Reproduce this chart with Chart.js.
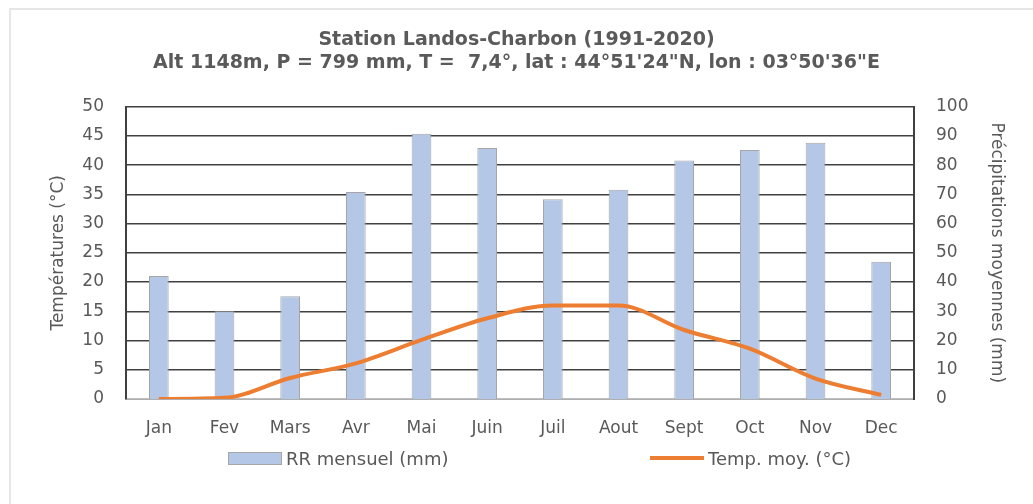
<!DOCTYPE html>
<html>
<head>
<meta charset="utf-8">
<script src="https://cdn.jsdelivr.net/npm/chart.js@4.4.0/dist/chart.umd.min.js"></script>
<style>
  html, body { margin: 0; padding: 0; background: #fff; overflow: hidden; }
  #wrap { position: relative; width: 1033px; height: 504px; overflow: hidden; }
  #frame { position: absolute; left: 9px; top: 8px; width: 1100px; height: 600px; border-left: 2px solid #e6e6e6; border-top: 2px solid #e6e6e6; }
  #myChart { position: absolute; left: 0; top: 0; }
  #legend { position: absolute; top: 446px; left: 0; width: 1033px; height: 24px; font-family: "DejaVu Sans", sans-serif; font-size: 18px; color: #595959; }
  .item { position: absolute; top: 0; display: flex; align-items: center; height: 24px; }
  .swatch { display: inline-block; margin-right: 4px; }
</style>
</head>
<body>
<div id="wrap">
  <div id="frame"></div>
  <canvas id="myChart" width="1033" height="504"></canvas>
  <div id="legend"></div>
</div>
<script>
var months = ['Jan', 'Fev', 'Mars', 'Avr', 'Mai', 'Juin', 'Juil', 'Aout', 'Sept', 'Oct', 'Nov', 'Dec'];
var rainMm = [42.1, 30.0, 35.1, 70.8, 90.7, 85.8, 68.3, 71.6, 81.6, 85.2, 87.6, 46.9];
var tempC = [0.0, 0.2, 3.6, 6.1, 10.1, 13.8, 16.0, 16.0, 11.8, 8.6, 3.5, 0.7];
var titleLines = ['Station Landos-Charbon (1991-2020)', 'Alt 1148m, P = 799 mm, T =  7,4°, lat : 44°51\'24"N, lon : 03°50\'36"E'];
var rainLabel = 'RR mensuel (mm)';
var tempLabel = 'Temp. moy. (°C)';

var fontFam = '"DejaVu Sans", sans-serif';
var tickColor = '#595959';

const ctx = document.getElementById('myChart').getContext('2d');
const myChart = new Chart(ctx, {
    type: 'bar',
    data: {
        labels: months,
        datasets: [{
            type: 'line',
            label: tempLabel,
            data: tempC,
            yAxisID: 'yT',
            borderColor: '#ed7d31',
            backgroundColor: '#ed7d31',
            borderWidth: 4,
            pointRadius: 0,
            cubicInterpolationMode: 'monotone',
            order: 0
        }, {
            type: 'bar',
            label: rainLabel,
            data: rainMm,
            yAxisID: 'yP',
            backgroundColor: '#b4c7e7',
            borderColor: '#a6a6a6',
            borderWidth: 1,
            barPercentage: 0.6,
            categoryPercentage: 0.5,
            order: 1
        }]
    },
    options: {
        responsive: false,
        animation: false,
        layout: { padding: { left: 0, right: 0, top: 0, bottom: 58 } },
        plugins: {
            legend: { display: false },
            tooltip: { enabled: false },
            title: {
                display: true,
                text: titleLines,
                color: '#5a5a5a',
                font: { family: fontFam, size: 19, weight: 'bold', lineHeight: 1.2 },
                padding: { top: 29, bottom: 32 }
            }
        },
        scales: {
            x: {
                grid: { display: false, drawTicks: false },
                border: { display: true, color: '#bfbfbf', width: 1.5 },
                ticks: { color: tickColor, font: { family: fontFam, size: 17 }, padding: 19, maxRotation: 0 },
                afterFit: function (scale) { scale.height = 47; }
            },
            yT: {
                position: 'left',
                min: 0,
                max: 50,
                ticks: { stepSize: 5, color: tickColor, font: { family: fontFam, size: 17 }, padding: 22 },
                grid: { color: '#404040', lineWidth: 1.5, drawTicks: false },
                border: { display: true, color: '#404040', width: 2 },
                title: { display: true, text: 'Températures (°C)', color: tickColor, font: { family: fontFam, size: 17 }, padding: { top: 48, bottom: 0 } },
                afterFit: function (scale) { scale.width = 126; }
            },
            yP: {
                position: 'right',
                min: 0,
                max: 100,
                ticks: { stepSize: 10, color: tickColor, font: { family: fontFam, size: 17 }, padding: 22 },
                grid: { display: false, drawTicks: false },
                border: { display: true, color: '#404040', width: 2 },
                title: { display: true, text: 'Précipitations moyennes (mm)', color: tickColor, font: { family: fontFam, size: 17 }, padding: { top: 26, bottom: 0 } },
                afterFit: function (scale) { scale.width = 119; }
            }
        }
    }
});

// legend built from the datasets, placed like the Excel one
var legendPos = { bar: 228, line: 650 };
var legendEl = document.getElementById('legend');
myChart.data.datasets.forEach(function (ds) {
    var item = document.createElement('div');
    item.className = 'item';
    var sw = document.createElement('span');
    sw.className = 'swatch';
    if (ds.type === 'bar') {
        item.style.left = legendPos.bar + 'px';
        sw.style.cssText = 'width:52px;height:11px;background:' + ds.backgroundColor + ';border:1px solid #a6a6a6;';
    } else {
        item.style.left = legendPos.line + 'px';
        sw.style.cssText = 'width:54px;height:4px;background:' + ds.borderColor + ';';
    }
    item.appendChild(sw);
    item.appendChild(document.createTextNode(ds.label));
    legendEl.appendChild(item);
});
</script>
</body>
</html>
